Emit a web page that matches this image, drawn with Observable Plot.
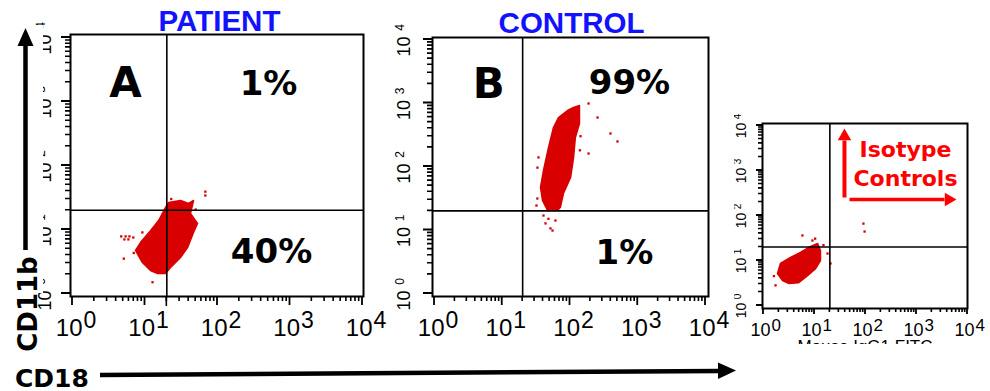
<!DOCTYPE html>
<html><head><meta charset="utf-8">
<script src="https://cdn.jsdelivr.net/npm/d3@7"></script>
<script src="https://cdn.jsdelivr.net/npm/@observablehq/plot@0.6"></script>
<style>
body{margin:0;background:#fff;}
#wrap{position:relative;width:990px;height:391px;overflow:hidden;background:#fff;}
#wrap > svg{position:absolute;left:0;top:0;}
</style></head><body><div id="wrap"></div>
<script>
// ---- axis ticks ----
const decades = [1, 10, 100, 1000, 10000];
const exponents = ["0", "1", "2", "3", "4"];
const minorTicks = [2,3,4,5,6,7,8,9,20,30,40,50,60,70,80,90,200,300,400,500,600,700,800,900,2000,3000,4000,5000,6000,7000,8000,9000];
const gate = 20;

// ---- PATIENT (CD18 x, CD11b y): outline of dense cloud + scattered events ----
const patientCloud = [[19.2,22.1],[21.1,26.4],[25.5,27.4],[30.9,28.4],[39.8,25.5],[46.7,28.4],[42.4,17.8],[53,12.4],[46.7,9.0],[38.6,5.2],[30.9,3.65],[22.5,2.55],[19.2,2.05],[14.9,2.05],[11.9,2.29],[9.2,3.05],[7.4,4.7],[8.7,6.3],[11.9,9.6],[15.4,13.8],[17.4,17.8]];
const patientDots = [[4.7,7.8],[5.4,7.8],[6.1,7.8],[6.9,7.5],[5.2,7.0],[5.9,7.0],[5.1,3.5],[68,39],[68,34],[12.7,1.5],[9.2,9.0],[7.0,4.3],[23,30],[50,20.5]];
const patientLetter = [{x: 5.4, y: 1900, t: "A"}];
const patientPct = [{x: 505, y: 1900, t: "1%"}, {x: 556, y: 4.5, t: "40%"}];

// ---- CONTROL ----
const controlCloud = [[138,914],[138,476],[120,286],[113,139],[102,67],[80,37.6],[72,22.6],[65,20.3],[46.6,20.3],[39.3,29.2],[36.7,46.7],[40.6,86.5],[48.2,199],[57,411],[67.6,591],[91.8,762],[113,849]];
const controlDots = [[188,982],[255,591],[396,331],[502,248],[188,160],[33.1,96],[34.3,139],[40.6,16.9],[43.5,12.7],[51.5,10.6],[55.2,9.8],[61,14.1],[32,24.3],[33,31.3],[48,15],[143,300],[140,180]];
const controlLetter = [{x: 6.3, y: 1950, t: "B"}];
const controlPct = [{x: 755, y: 2030, t: "99%"}, {x: 637, y: 4.3, t: "1%"}];

// ---- ISOTYPE CONTROLS ----
const isoCloud = [[1.88,5.14],[2.15,8.6],[3.38,11.7],[5.3,15.1],[7.6,19.4],[11.5,23.9],[13.1,16.7],[13.1,10],[10.5,6.6],[7.3,4.6],[4.9,3.2],[3.1,3.1],[2.36,3.6]];
const isoDots = [[5.8,36],[1.72,2.8],[20.6,8.6],[18,14.3],[91,66],[96,44],[9.1,27.8],[10.3,30.6],[15,22],[1.6,4.5]];
const isoText = [{x: 608, y: 1945, t: "Isotype"}, {x: 608, y: 464, t: "Controls"}];
const isoArrowUp = [{x: 38.7, y1: 251, y2: 4640, tip: 8570}];
const isoArrowRight = [{y: 227, x1: 48.5, x2: 3540, tip: 6090}];

const RED = "#d80000";
const BOLD = "DejaVu Sans, Verdana, sans-serif";
const SANS = "Liberation Sans, Arial, sans-serif";

function panelPlot(p) {
  const marks = [
    Plot.line(p.cloud, {x: d => d[0], y: d => d[1], curve: "linear-closed", fill: RED, stroke: RED, strokeWidth: 1.5}),
    Plot.dot(p.dots, {x: d => d[0], y: d => d[1], r: 1.3, symbol: "square", fill: RED}),
    Plot.ruleX([gate], {x: d => d, stroke: "#000", strokeWidth: 1.6}),
    Plot.ruleY([gate], {y: d => d, stroke: "#000", strokeWidth: 1.6}),
    Plot.frame({stroke: "#000", strokeWidth: 2}),
    Plot.text(decades, {x: d => d, text: () => "10", frameAnchor: "bottom", textAnchor: "end", lineAnchor: "bottom", dx: p.xl.dx, dy: p.xl.dy, fontSize: p.xl.fs, fontFamily: SANS, fill: "#000"}),
    Plot.text(decades, {x: d => d, text: (d, i) => exponents[i], frameAnchor: "bottom", textAnchor: "start", lineAnchor: "bottom", dx: p.xl.dx + 1, dy: p.xl.dy - p.xl.raise, fontSize: p.xl.efs, fontFamily: SANS, fill: "#000"}),
    Plot.text(decades, {y: d => d, text: () => "10", frameAnchor: "left", rotate: -90, textAnchor: "middle", lineAnchor: "bottom", dx: p.yl.dx, dy: p.yl.dy, fontSize: p.yl.fs, fontFamily: SANS, fill: "#000"}),
    Plot.text(decades, {y: d => d, text: (d, i) => exponents[i], frameAnchor: "left", rotate: -90, textAnchor: "middle", lineAnchor: "bottom", dx: p.yl.edx, dy: p.yl.edy, fontSize: p.yl.efs, fontFamily: SANS, fill: "#000"})
  ];
  if (p.title) marks.push(Plot.text([p.title], {text: d => d, frameAnchor: "top", textAnchor: "middle", lineAnchor: "bottom", dx: p.tdx, dy: p.tdy, fill: "#1212ff", fontSize: 29.5, fontWeight: "bold", fontFamily: SANS}));
  if (p.letter) marks.push(Plot.text(p.letter, {x: "x", y: "y", text: "t", textAnchor: "middle", lineAnchor: "middle", fontSize: 42, fontWeight: "bold", fontFamily: BOLD, fill: "#000"}));
  if (p.pct) marks.push(Plot.text(p.pct, {x: "x", y: "y", text: "t", textAnchor: "middle", lineAnchor: "middle", fontSize: 34, fontWeight: "bold", fontFamily: BOLD, fill: "#000"}));
  if (p.extra) marks.push(...p.extra);
  return Plot.plot({
    width: 990, height: 391,
    marginTop: p.m[0], marginRight: p.m[1], marginBottom: p.m[2], marginLeft: p.m[3],
    insetTop: p.i[0], insetRight: p.i[1], insetBottom: p.i[2], insetLeft: p.i[3],
    x: {type: "log", domain: [1, 10000], label: null, axis: null},
    y: {type: "log", domain: [1, 10000], label: null, axis: null},
    style: {background: "transparent", color: "#000", overflow: "visible"},
    marks
  });
}

const panels = [
  {
    cloud: patientCloud, dots: patientDots, letter: patientLetter, pct: patientPct,
    title: "PATIENT", tdx: 2.5, tdy: -4, gateExt: 10,
    m: [34, 627, 95, 70], i: [3, 1, 3, 2], major: 9, minor: 5,
    xl: {dx: 10, dy: 39, fs: 24, efs: 23, raise: 8},
    yl: {dx: -20, dy: 7, fs: 18, edx: -26, edy: -12, efs: 12}
  },
  {
    cloud: controlCloud, dots: controlDots, letter: controlLetter, pct: controlPct,
    title: "CONTROL", tdx: 1, tdy: -5, gateExt: 0,
    m: [37, 282, 95, 432], i: [2, 3, 3, 2], major: 9, minor: 5,
    xl: {dx: 10, dy: 39, fs: 24, efs: 23, raise: 8},
    yl: {dx: -23, dy: 7, fs: 18, edx: -29, edy: -12, efs: 12}
  },
  {
    cloud: isoCloud, dots: isoDots, gateExt: 0,
    m: [123, 23, 83, 762], i: [2, 0, 3, 1], major: 6, minor: 4,
    xl: {dx: 7, dy: 27, fs: 18, efs: 17, raise: 5},
    yl: {dx: -17, dy: 5, fs: 14, edx: -22, edy: -9, efs: 10},
    extra: [
      Plot.text(isoText, {x: "x", y: "y", text: "t", textAnchor: "middle", lineAnchor: "bottom", fontSize: 22, fontWeight: "bold", fontFamily: BOLD, fill: "#ff0000"}),
      Plot.link(isoArrowUp, {x1: "x", x2: "x", y1: "y1", y2: "y2", stroke: "#ff0000", strokeWidth: 4}),
      Plot.dot(isoArrowUp, {x: "x", y: "tip", symbol: "triangle", r: 5, fill: "#ff0000", dy: 7.8}),
      Plot.link(isoArrowRight, {x1: "x1", x2: "x2", y1: "y", y2: "y", stroke: "#ff0000", strokeWidth: 3.6}),
      Plot.dot(isoArrowRight, {x: "tip", y: "y", symbol: "triangle", r: 5, rotate: 90, fill: "#ff0000", dx: -7.8})
    ]
  }
];

// ---- one master SVG holding all three Plot panels ----
const wrap = document.getElementById("wrap");
const master = d3.select(wrap).append("svg").attr("width", 990).attr("height", 391)
  .attr("viewBox", "0 0 990 391").style("background", "#fff");
const skip = new Set(["width", "height", "viewBox", "class", "style", "xmlns", "xmlns:xlink"]);

function scaleOf(chart, name, p) {
  let f = null;
  try {
    const s = chart.scale(name);
    if (s && typeof s.apply === "function") f = v => s.apply(v);
  } catch (e) { f = null; }
  if (!f || !Number.isFinite(f(10))) {
    const r = name === "x"
      ? [p.m[3] + p.i[3], 990 - p.m[1] - p.i[1]]
      : [391 - p.m[2] - p.i[2], p.m[0] + p.i[0]];
    f = d3.scaleLog().domain([1, 10000]).range(r);
  }
  return f;
}

const built = [];
for (const p of panels) {
  const chart = panelPlot(p);
  const g = master.append("g").style("color", "#000");
  for (const a of [...chart.attributes]) if (!skip.has(a.name)) g.attr(a.name, a.value);
  g.attr("fill", "#000");
  for (const child of [...chart.childNodes]) g.node().appendChild(child);
  built.push([p, scaleOf(chart, "x", p), scaleOf(chart, "y", p)]);
}

// cropped edges of the original figure
master.append("rect").attr("x", 0).attr("y", 25).attr("width", 43).attr("height", 268).attr("fill", "#fff");
master.append("rect").attr("x", 366).attr("y", 25).attr("width", 24).attr("height", 270).attr("fill", "#fff");
master.append("rect").attr("x", 712).attr("y", 110).attr("width", 22).attr("height", 192).attr("fill", "#fff");

// outward ticks, placed with each panel's Plot scales
for (const [p, sx, sy] of built) {
  const bottom = 391 - p.m[2], left = p.m[3];
  const pathFor = (vals, len) => vals.map(v => {
    const px = sx(v), py = sy(v);
    return `M${px},${bottom}V${bottom + len}M${left - len},${py}H${left}`;
  }).join("");
  master.append("path").attr("d", pathFor(decades, p.major)).attr("fill", "none").attr("stroke", "#000").attr("stroke-width", 1.8);
  master.append("path").attr("d", pathFor(minorTicks, p.minor)).attr("fill", "none").attr("stroke", "#000").attr("stroke-width", 1.6);
  if (p.gateExt) {
    const gx = sx(gate);
    master.append("path").attr("d", `M${gx},${bottom}V${bottom + p.gateExt}`).attr("fill", "none").attr("stroke", "#000").attr("stroke-width", 1.6);
  }
}

// axis titles with arrows
master.append("text").attr("transform", "translate(37,304) rotate(-90)").attr("text-anchor", "middle")
  .attr("font-family", BOLD).attr("font-weight", "bold").attr("font-size", 26).attr("fill", "#000").text("CD11b");
master.append("path").attr("d", "M25.5,250V44").attr("stroke", "#000").attr("stroke-width", 4.5);
master.append("path").attr("d", "M25.5,28L17.5,46L33.5,46Z").attr("fill", "#000");

master.append("text").attr("x", 15).attr("y", 387).attr("font-family", BOLD).attr("font-weight", "bold").attr("font-size", 25).attr("fill", "#000").text("CD18");
master.append("path").attr("d", "M100,375L720,371").attr("stroke", "#000").attr("stroke-width", 4.5);
master.append("path").attr("d", "M736,370.5L718,362.5L718,379Z").attr("fill", "#000");

const cut = master.append("clipPath").attr("id", "fitc-cut");
cut.append("rect").attr("x", 740).attr("y", 338).attr("width", 250).attr("height", 6);
master.append("text").attr("x", 865).attr("y", 352).attr("text-anchor", "middle").attr("clip-path", "url(#fitc-cut)")
  .attr("font-family", SANS).attr("font-size", 17).attr("fill", "#000").text("Mouse IgG1 FITC");
</script></body></html>
